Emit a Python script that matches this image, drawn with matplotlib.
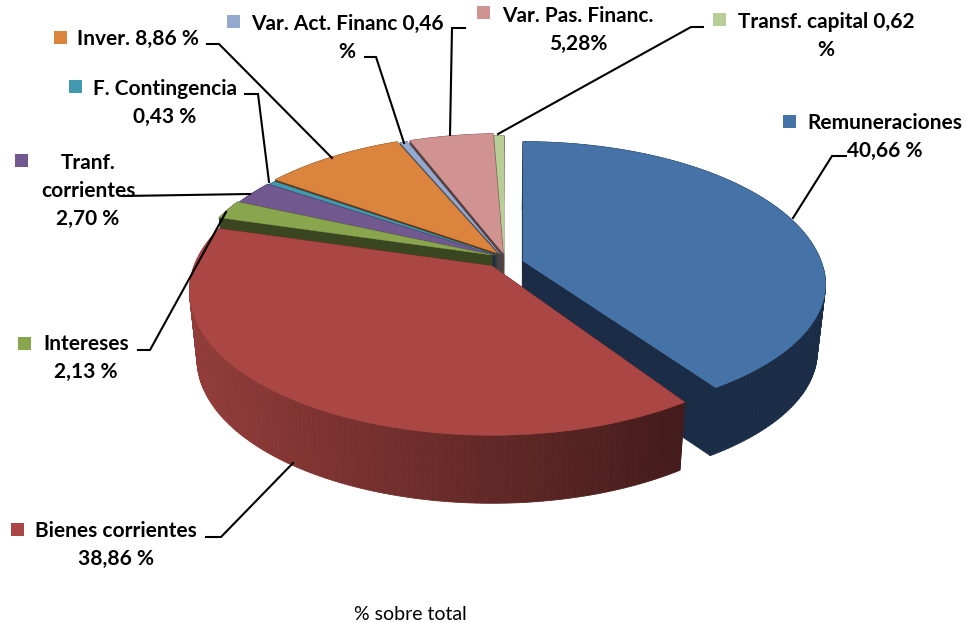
import numpy as np
import matplotlib
matplotlib.use("Agg")
import matplotlib.pyplot as plt
from matplotlib.patches import Polygon, Rectangle

plt.rcParams["font.family"] = ["Lato", "DejaVu Sans"]

# Datos (% sobre total)
categorias = [
    "Remuneraciones",
    "Bienes corrientes",
    "Intereses",
    "Tranf. corrientes",
    "F. Contingencia",
    "Inver.",
    "Var. Act. Financ",
    "Var. Pas. Financ.",
    "Transf. capital",
]
valores = [40.66, 38.86, 2.13, 2.70, 0.43, 8.86, 0.46, 5.28, 0.62]
etiquetas = [
    "Remuneraciones\n40,66 %",
    "Bienes corrientes\n38,86 %",
    "Intereses\n2,13 %",
    "Tranf.\ncorrientes\n2,70 %",
    "F. Contingencia\n0,43 %",
    "Inver. 8,86 %",
    "Var. Act. Financ 0,46\n%",
    "Var. Pas. Financ.\n5,28%",
    "Transf. capital 0,62\n%",
]
colores = ["#4572A7", "#AA4643", "#89A54E", "#71588F", "#4198AF",
           "#DB843D", "#93A9CF", "#D19392", "#B9CD96"]

# Geometría de la tarta en perspectiva (píxeles)
CX, CY = 492, 265
RX, RY = 298, 140
PERSP = 0.173
DEPTH = 68
BOTTOM_SCALE = 0.975

desplazamientos = [(31, -4), (0, 1), (0, -10), (2, -10), (4, -10), (5, -12), (8, -11), (11, -12), (12, -10)]
aplaste_frontal = [0.93, 1, 1, 1, 1, 1, 1, 1, 1]

# Posiciones de texto, cuadrados de leyenda y líneas guía
pos_texto = [(885, 137), (116, 545), (86, 358), (88, 191), (165, 103), (138, 39), (347, 38), (578, 30), (826, 36)]
pos_clave = [(783, 115), (11, 523), (18, 337), (15, 154), (69, 80), (54, 31), (227, 15), (477, 6), (713, 13)]
guias = [
    [(846, 156), (832, 156), (793, 218)],
    [(206, 537), (221, 537), (293, 463)],
    [(138, 350), (150, 350), (226, 212)],
    [(123, 196), (250, 194)],
    [(245, 94), (258, 94), (269, 182)],
    [(207, 44), (219, 44), (332, 158)],
    [(365, 57), (376, 57), (404, 143)],
    [(465, 28), (452, 28), (450, 135)],
    [(703, 27), (691, 27), (498, 134)],
]


def proyectar(theta, i, radio=1.0):
    dx, dy = desplazamientos[i]
    x = radio * np.sin(theta)
    y = radio * np.cos(theta)
    s = 1 / (1 + PERSP * y)
    fy = np.where(y < 0, aplaste_frontal[i], 1.0)
    return CX + dx + RX * x * s, CY + dy - RY * y * s * fy


def abajo(px, py):
    return CX + (px - CX) * BOTTOM_SCALE, py + DEPTH


def oscurecer(color, f):
    return tuple(np.array(matplotlib.colors.to_rgb(color)) * f)


fig = plt.figure(figsize=(9.66, 6.23), dpi=100)
ax = fig.add_axes([0, 0, 1, 1])
ax.set_xlim(0, 966)
ax.set_ylim(623, 0)
ax.axis("off")

limites = np.concatenate([[0], np.cumsum(valores)]) / sum(valores) * 2 * np.pi

# Orden de dibujo: de atrás hacia delante
orden = [8, 7, 6, 5, 4, 3, 2, 0, 1]

for i in orden:
    t0, t1 = limites[i], limites[i + 1]
    ts = np.linspace(t0, t1, max(4, int(np.degrees(t1 - t0))))
    color = colores[i]
    apex = proyectar(np.array(0.0), i, 0.0)
    apex = (float(apex[0]), float(apex[1]))
    oscuro = (26 / 255, 44 / 255, 70 / 255) if i == 0 else oscurecer(color, 0.42)

    # paredes de corte
    for t in (t1, t0):
        p = proyectar(t, i)
        p = (float(p[0]), float(p[1]))
        pared = [apex, p, abajo(*p), abajo(*apex)]
        ax.add_patch(Polygon(pared, closed=True, fc=oscuro, ec=oscuro, lw=0.5, zorder=2))

    # lateral exterior con degradado
    px, py = proyectar(ts, i)
    for k in range(len(ts) - 1):
        quad = [(px[k], py[k]), (px[k + 1], py[k + 1]),
                abajo(px[k + 1], py[k + 1]), abajo(px[k], py[k])]
        if i == 1:
            f = np.interp(px[k], [190, 683], [0.86, 0.40])
            c = oscurecer(color, f)
        else:
            c = oscuro
        ax.add_patch(Polygon(quad, closed=True, fc=c, ec=c, lw=0.6, zorder=2))

    # cara superior
    tapa = np.column_stack([np.r_[apex[0], px], np.r_[apex[1], py]])
    ax.add_patch(Polygon(tapa, closed=True, fc=color, ec=color, lw=0.3, zorder=2))

for i, nombre in enumerate(categorias):
    kx, ky = pos_clave[i]
    ax.add_patch(Rectangle((kx, ky), 13, 13, fc=colores[i], ec="none", zorder=4))
    ax.text(pos_texto[i][0], pos_texto[i][1], etiquetas[i], ha="center", va="center",
            multialignment="center", fontsize=15, fontweight="bold", color="black",
            linespacing=1.5, zorder=5)
    g = np.array(guias[i])
    ax.plot(g[:, 0], g[:, 1], color="black", lw=1.5, solid_joinstyle="miter", zorder=3)

ax.text(410, 614, "% sobre total", ha="center", va="center", fontsize=14, color="black")

fig.savefig("out.png", dpi=100)
